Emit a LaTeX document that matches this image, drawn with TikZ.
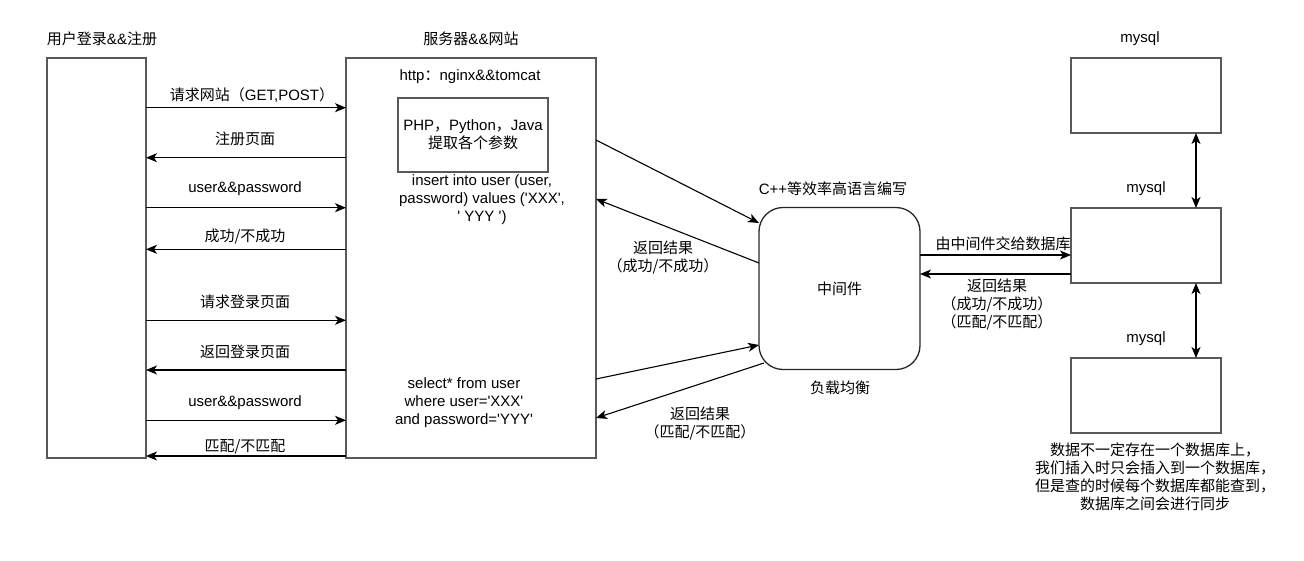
\documentclass[tikz,border=0pt]{standalone}
\usepackage{fontspec}
\setmainfont{Liberation Sans}
\newfontfamily\cjk{Noto Sans CJK SC}
\font\sqfont="Liberation Sans" at 15pt
\newcommand\q{{\sqfont'}}
\usetikzlibrary{arrows.meta}
\begin{document}
\begin{tikzpicture}[x=1pt,y=-1pt,
  boxs/.style={draw=black!65,line width=1.3pt,inner sep=0pt,outer sep=0pt},
  tip/.tip={Stealth[length=11pt,width=9pt,inset=3pt]},
  arr/.style={line width=1.1pt,-tip},
  darr/.style={line width=1.1pt,tip-tip},
  txt/.style={font=\fontsize{15}{18}\selectfont,align=center,inner sep=0pt},
  ctxt/.style={font=\fontsize{15}{18}\selectfont\cjk,align=center,inner sep=0pt}]
\useasboundingbox (0,0) rectangle (1304,560);

% boxes
\node[boxs,txt,minimum width=99pt,minimum height=400pt] (user) at (96.5,258) {};
\node[boxs,txt,minimum width=250pt,minimum height=400pt] (server) at (471,258) {};
\node[boxs,txt,minimum width=150pt,minimum height=74pt] (php) at (473,135)
  {PHP{\cjk ，}Python{\cjk ，}Java\\{\cjk 提取各个参数}};
\node[draw=black!85,line width=1.3pt,rounded corners=24pt,minimum width=161pt,minimum height=162pt,
  inner sep=0pt,outer sep=0pt,ctxt] (mw) at (839.5,288.5) {中间件};
\node[boxs,minimum width=150pt,minimum height=75pt] (db1) at (1146,95.5) {};
\node[boxs,minimum width=150pt,minimum height=75pt] (db2) at (1146,245.5) {};
\node[boxs,minimum width=150pt,minimum height=75pt] (db3) at (1146,395.5) {};

% titles and texts
\node[txt] (tuser) at (102,39) {{\cjk 用户登录}\&\&{\cjk 注册}};
\node[txt] (tserver) at (471,39) {{\cjk 服务器}\&\&{\cjk 网站}};
\node[txt] (thttp) at (470,77) {http{\cjk ：}nginx\&\&tomcat};
\node[txt] (tinsert) at (482,199.5) {insert into user (user,\\password) values (\q XXX\q,\\\q\ YYY \q)};
\node[txt] (tselect) at (464,402.5) {select* from user\\where user=\q XXX\q\\and password=\q YYY\q};

\node[txt] (l1) at (252,95) {{\cjk 请求网站（}GET,POST{\cjk ）}};
\node[ctxt] (l2) at (245,139) {注册页面};
\node[txt] (l3) at (245,189) {user\&\&password};
\node[ctxt] (l4) at (245,237) {成功/不成功};
\node[ctxt] (l5) at (245,302.3) {请求登录页面};
\node[ctxt] (l6) at (245,351.7) {返回登录页面};
\node[txt] (l7) at (245,402.3) {user\&\&password};
\node[ctxt] (l8) at (245,446.7) {匹配/不匹配};

\node[ctxt] (m1) at (663,258) {返回结果\\（成功/不成功）};
\node[ctxt] (m2) at (700,423.5) {返回结果\\（匹配/不匹配）};
\node[txt] (tcpp) at (833,189) {C++{\cjk 等效率高语言编写}};
\node[ctxt] (tlb) at (840,388) {负载均衡};

\node[txt] (s1) at (1140,39) {mysql};
\node[txt] (s2) at (1146,189) {mysql};
\node[txt] (s3) at (1146,339) {mysql};
\node[ctxt] (d1) at (1003,244) {由中间件交给数据库};
\node[ctxt] (d2) at (997,304.5) {返回结果\\（成功/不成功）\\（匹配/不匹配）};
\node[ctxt] (note) at (1155,476.5) {数据不一定存在一个数据库上，\\我们插入时只会插入到一个数据库，\\但是查的时候每个数据库都能查到，\\数据库之间会进行同步};

% row coordinates
\coordinate (r1) at (0,107.7);
\coordinate (r2) at (0,157.7);
\coordinate (r3) at (0,207.7);
\coordinate (r4) at (0,249.3);
\coordinate (r5) at (0,320.3);
\coordinate (r6) at (0,370);
\coordinate (r7) at (0,420.3);
\coordinate (r8) at (0,456);

\draw[arr] (user.east |- r1) -- (server.west |- r1);
\draw[arr] (server.west |- r2) -- (user.east |- r2);
\draw[arr] (user.east |- r3) -- (server.west |- r3);
\draw[arr] (server.west |- r4) -- (user.east |- r4);
\draw[arr] (user.east |- r5) -- (server.west |- r5);
\draw[arr] (server.west |- r6) -- (user.east |- r6);
\draw[arr] (user.east |- r7) -- (server.west |- r7);
\draw[arr] (server.west |- r8) -- (user.east |- r8);

% server <-> middleware
\coordinate (a1s) at (0,140);
\coordinate (a1e) at (0,223);
\coordinate (a2s) at (0,263);
\coordinate (a2e) at (0,199);
\coordinate (a3s) at (0,379);
\coordinate (a3e) at (0,345);
\coordinate (a4s) at (764,363);
\coordinate (a4e) at (0,418);
\draw[arr] (server.east |- a1s) -- (mw.west |- a1e);
\draw[arr] (mw.west |- a2s) -- (server.east |- a2e);
\draw[arr] (server.east |- a3s) -- (mw.west |- a3e);
\draw[arr] (a4s) -- (server.east |- a4e);

% middleware <-> db
\coordinate (b1) at (0,255);
\coordinate (b2) at (0,274);
\draw[arr] (mw.east |- b1) -- (db2.west |- b1);
\draw[arr] (db2.west |- b2) -- (mw.east |- b2);

% db sync
\coordinate (dx) at (1196,0);
\draw[darr] (db1.south -| dx) -- (db2.north -| dx);
\draw[darr] (db2.south -| dx) -- (db3.north -| dx);
\end{tikzpicture}
\end{document}
